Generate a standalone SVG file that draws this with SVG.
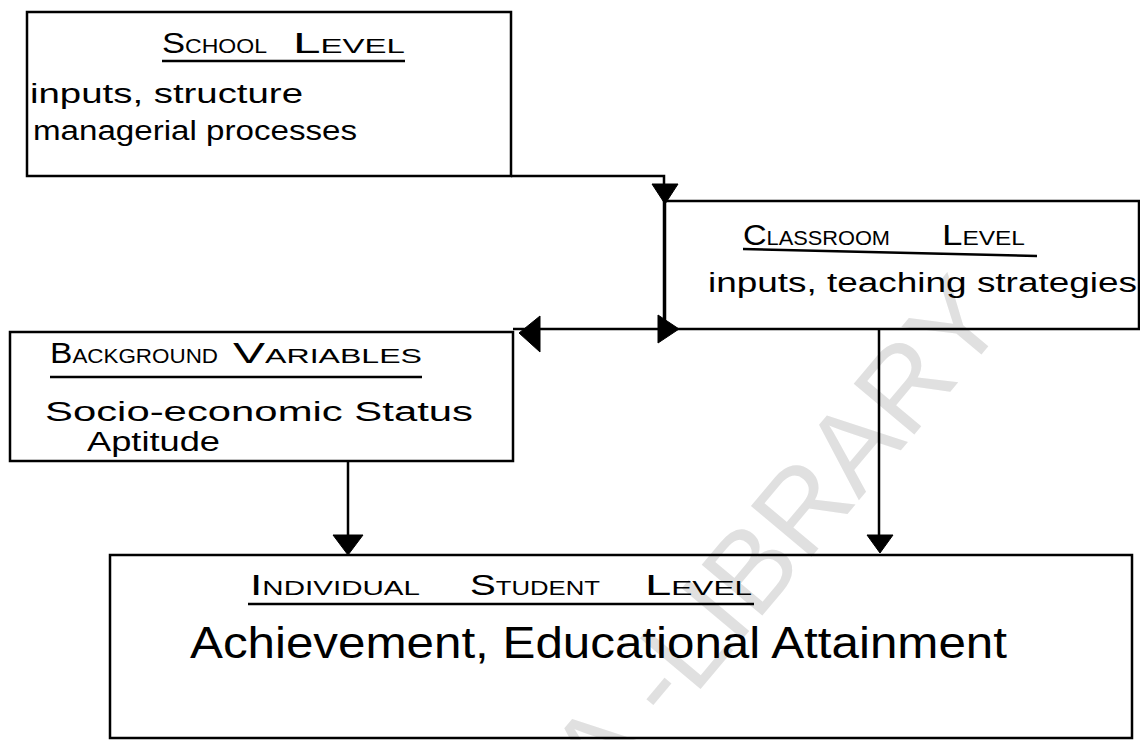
<svg xmlns="http://www.w3.org/2000/svg" width="1140" height="740" viewBox="0 0 1140 740">
<style>
  .box { fill: none; stroke: #000; stroke-width: 2.5; }
  .ln { fill: none; stroke: #000; stroke-width: 2.5; }
  .head { fill: #000; stroke: #000; stroke-width: 1; stroke-linejoin: round; }
  .ul { stroke: #000; stroke-width: 2.5; }
  text { font-family: "Liberation Sans", Arial, sans-serif; fill: #000; }
  .t { font-size: 20px; }
  .big { font-size: 30px; }
  .body { font-size: 27px; }
  .main { font-size: 44px; }
  .wm { font-family: "Liberation Sans", Arial, sans-serif; font-size: 115px; fill: #e0e0e0; }
</style>
<rect width="1140" height="740" fill="#fff"/>
<text class="wm" x="780" y="575" text-anchor="middle" transform="rotate(-50 780 540)">A -LIBRARY</text>

<g id="school">
  <rect class="box" x="27" y="12" width="484" height="164"/>
  <text class="t" x="162" y="53" textLength="105" lengthAdjust="spacingAndGlyphs"><tspan class="big">S</tspan>CHOOL</text>
  <text class="t" x="293" y="53" textLength="112" lengthAdjust="spacingAndGlyphs"><tspan class="big">L</tspan>EVEL</text>
  <line class="ul" x1="162" y1="61" x2="405" y2="61"/>
  <text class="body" x="30" y="103" textLength="273" lengthAdjust="spacingAndGlyphs">inputs, structure</text>
  <text class="body" x="33" y="140" textLength="324" lengthAdjust="spacingAndGlyphs">managerial processes</text>
</g>

<g id="classroom">
  <rect class="box" x="665" y="201" width="474" height="128"/>
  <text class="t" x="743" y="245" textLength="147" lengthAdjust="spacingAndGlyphs"><tspan class="big">C</tspan>LASSROOM</text>
  <text class="t" x="942" y="245" textLength="83" lengthAdjust="spacingAndGlyphs"><tspan class="big">L</tspan>EVEL</text>
  <line class="ul" x1="743" y1="249" x2="1037" y2="256"/>
  <text class="body" x="708" y="292" textLength="429" lengthAdjust="spacingAndGlyphs">inputs, teaching strategies</text>
</g>

<g id="background">
  <rect class="box" x="10" y="332" width="503" height="129"/>
  <text class="t" x="50" y="363" textLength="168" lengthAdjust="spacingAndGlyphs"><tspan class="big">B</tspan>ACKGROUND</text>
  <text class="t" x="233" y="363" textLength="189" lengthAdjust="spacingAndGlyphs"><tspan class="big">V</tspan>ARIABLES</text>
  <line class="ul" x1="50" y1="377" x2="422" y2="377"/>
  <text class="body" x="45" y="421" textLength="428" lengthAdjust="spacingAndGlyphs">Socio-economic Status</text>
  <text class="body" x="87" y="451" font-size="25" textLength="133" lengthAdjust="spacingAndGlyphs">Aptitude</text>
</g>

<g id="individual">
  <rect class="box" x="110" y="555" width="1022" height="183"/>
  <text class="t" x="250" y="595" textLength="170" lengthAdjust="spacingAndGlyphs"><tspan class="big">I</tspan>NDIVIDUAL</text>
  <text class="t" x="470" y="595" textLength="130" lengthAdjust="spacingAndGlyphs"><tspan class="big">S</tspan>TUDENT</text>
  <text class="t" x="645" y="595" textLength="107" lengthAdjust="spacingAndGlyphs"><tspan class="big">L</tspan>EVEL</text>
  <line class="ul" x1="248" y1="604" x2="754" y2="604"/>
  <text class="main" x="190" y="658" textLength="817" lengthAdjust="spacingAndGlyphs">Achievement, Educational Attainment</text>
</g>

<g id="connectors">
  <polyline class="ln" points="511,176 664,176 664,329"/>
  <line class="ln" x1="513" y1="329" x2="665" y2="329"/>
  <line class="ln" x1="348" y1="461" x2="348" y2="540"/>
  <line class="ln" x1="879" y1="329" x2="879" y2="538"/>
  <polygon class="head" points="652,184 678,184 665,204"/>
  <polygon class="head" points="658,315 658,343 679,329"/>
  <polygon class="head" points="540,316 540,352 519,333"/>
  <polygon class="head" points="333,535 363,535 348,555"/>
  <polygon class="head" points="867,535 893,535 880,553"/>
</g>
</svg>
